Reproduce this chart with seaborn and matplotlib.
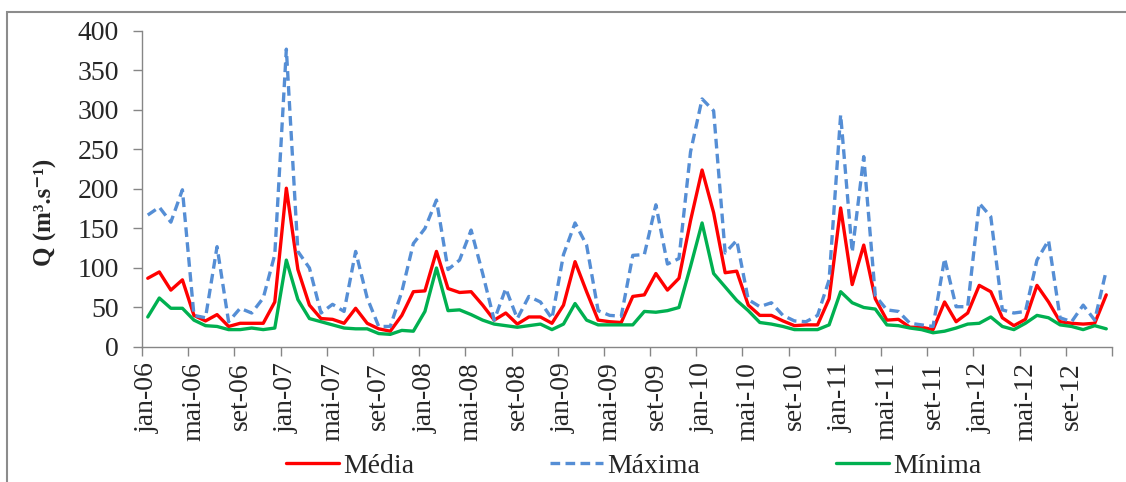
import numpy as np
import pandas as pd
import matplotlib
matplotlib.use('Agg')
import matplotlib.pyplot as plt
import seaborn as sns
from matplotlib.patches import Rectangle

# monthly discharge, jan-06 .. dez-12 (m3/s)
years = ['06', '07', '08', '09', '10', '11', '12']
month_abbr = ['jan', 'fev', 'mar', 'abr', 'mai', 'jun',
              'jul', 'ago', 'set', 'out', 'nov', 'dez']

media = [87, 95, 72, 85, 40, 33, 41, 26, 30, 30, 30, 57,
         201, 98, 53, 36, 35, 30, 49, 30, 23, 20, 40, 70,
         71, 121, 74, 69, 70, 53, 34, 43, 29, 38, 38, 30,
         53, 108, 70, 34, 32, 31, 64, 66, 93, 72, 87, 160,
         224, 170, 94, 96, 53, 40, 40, 33, 27, 28, 28, 61,
         176, 79, 129, 61, 34, 35, 25, 25, 22, 57, 32, 43,
         78, 70, 37, 27, 35, 78, 57, 32, 30, 29, 30, 66]

maxima = [167, 177, 158, 199, 40, 37, 127, 32, 49, 43, 62, 117,
          377, 121, 100, 43, 54, 45, 121, 62, 26, 26, 70, 131,
          150, 186, 98, 110, 148, 93, 34, 74, 36, 64, 57, 36,
          117, 157, 129, 46, 40, 39, 116, 117, 180, 105, 112, 247,
          314, 299, 119, 135, 60, 51, 56, 40, 33, 32, 40, 85,
          294, 120, 241, 65, 47, 45, 30, 28, 26, 112, 51, 51,
          182, 165, 47, 43, 45, 110, 135, 37, 32, 53, 34, 97]

minima = [38, 62, 49, 49, 34, 27, 26, 22, 22, 24, 22, 24,
          110, 60, 36, 32, 28, 24, 23, 23, 17, 16, 21, 20,
          45, 100, 46, 47, 41, 34, 29, 27, 25, 27, 29, 22,
          29, 55, 34, 28, 28, 28, 28, 45, 44, 46, 50, 102,
          157, 93, 76, 59, 46, 31, 29, 26, 22, 22, 22, 28,
          70, 56, 50, 48, 28, 27, 24, 22, 18, 20, 24, 29,
          30, 38, 26, 22, 30, 40, 37, 28, 26, 22, 27, 23]

months = [f'{m}-{y}' for y in years for m in month_abbr]
df = pd.DataFrame({'mes': months, 'Média': media, 'Máxima': maxima, 'Mínima': minima})
df['pos'] = np.arange(len(df))

sns.set_style('white')
plt.rcParams['font.family'] = ['Liberation Serif', 'DejaVu Serif']

fig = plt.figure(figsize=(11.26, 4.82), dpi=100)
ax = fig.add_axes([0.1261, 0.2801, 0.8615, 0.6556])

sns.lineplot(data=df, x='pos', y='Média', ax=ax, color='#FF0000', lw=2.4, label='Média')
sns.lineplot(data=df, x='pos', y='Máxima', ax=ax, color='#558ED5', lw=2.4,
             linestyle=(0, (2.9, 1.6)), label='Máxima')
sns.lineplot(data=df, x='pos', y='Mínima', ax=ax, color='#00B050', lw=2.4, label='Mínima')

ax.set_xlim(-0.5, 83.5)
ax.set_ylim(0, 400)
ax.set_yticks(range(0, 401, 50))

# ticks on category boundaries, labels on category centres
ax.set_xticks(np.arange(-0.5, 84, 4))
ax.set_xticklabels([])
ax.set_xticks(np.arange(0, 84, 4), minor=True)
ax.set_xticklabels(df['mes'][::4], minor=True, rotation=90)

ax.tick_params(axis='y', left=True, length=6.5, width=1, color='#868686',
               labelsize=20, pad=10)
ax.tick_params(axis='x', which='major', bottom=True, length=6.5, width=1, color='#868686')
ax.tick_params(axis='x', which='minor', bottom=True, length=0, labelsize=20, pad=11)

for side in ['top', 'right']:
    ax.spines[side].set_visible(False)
for side in ['left', 'bottom']:
    ax.spines[side].set_color('#868686')
    ax.spines[side].set_linewidth(1)

ax.set_xlabel('')
ax.set_ylabel('Q (m³.s⁻¹)', fontsize=18, fontweight='bold',
              family=['Liberation Serif', 'DejaVu Serif'])
ax.yaxis.set_label_coords(-0.088, 0.427)

handles, labels = ax.get_legend_handles_labels()
ax.get_legend().remove()
fig.legend(handles, labels, loc='center', bbox_to_anchor=(0.563, 0.033), ncol=3,
           frameon=False, fontsize=20, handlelength=1.9, handletextpad=0.15,
           columnspacing=4.9)

# chart-area border (cropped on the right and bottom in the reference)
fig.patches.append(Rectangle((7 / 1126, -0.1), 1.2, 1.0751, transform=fig.transFigure,
                             fill=False, edgecolor='#8C8C8C', lw=1.5))

fig.savefig('out.png', dpi=100)
